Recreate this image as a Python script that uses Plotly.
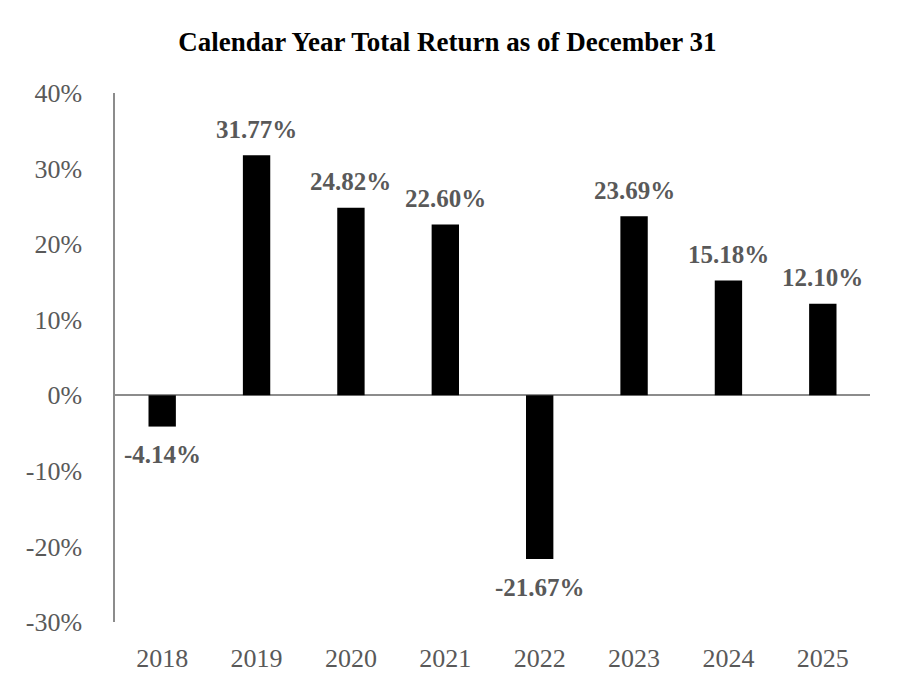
import plotly.graph_objects as go

years = ["2018", "2019", "2020", "2021", "2022", "2023", "2024", "2025"]
returns = [-4.14, 31.77, 24.82, 22.60, -21.67, 23.69, 15.18, 12.10]
labels = ["-4.14%", "31.77%", "24.82%", "22.60%", "-21.67%", "23.69%", "15.18%", "12.10%"]
y_ticks = [-30, -20, -10, 0, 10, 20, 30, 40]

FONT = "Liberation Serif, Times New Roman, serif"
GRAY = "#595959"

fig = go.Figure()
fig.add_trace(go.Bar(x=years, y=returns, marker=dict(color="black", line=dict(width=0)),
                     hoverinfo="skip"))

for i, (v, lab) in enumerate(zip(returns, labels)):
    fig.add_annotation(x=i, y=v, text=lab, showarrow=False,
                       yshift=26 if v >= 0 else -28, yanchor="middle",
                       font=dict(family=FONT, size=25, color=GRAY, weight="bold"))

fig.update_layout(
    width=900, height=700,
    margin=dict(l=115, r=30, t=93, b=78),
    paper_bgcolor="white", plot_bgcolor="white",
    bargap=0.71,
    showlegend=False,
    title=dict(text="<b>Calendar Year Total Return as of December 31</b>",
               x=0.497, xanchor="center", y=0.94, yanchor="middle",
               font=dict(family=FONT, size=27, color="black")),
)
fig.update_yaxes(range=[-30, 40], tickvals=y_ticks,
                 ticktext=[f"{t}%" for t in y_ticks],
                 showgrid=False, showline=True, linecolor="#8c8c8c", linewidth=1.5,
                 zeroline=True, zerolinecolor="#8c8c8c", zerolinewidth=1.5,
                 ticks="", ticklabelstandoff=26,
                 tickfont=dict(family=FONT, size=26, color=GRAY))
fig.update_xaxes(type="category", range=[-0.5, len(years) - 0.5],
                 showgrid=False, showline=False, zeroline=False, ticks="",
                 ticklabelstandoff=18,
                 tickfont=dict(family=FONT, size=26, color=GRAY))

fig.write_html("out.html")
